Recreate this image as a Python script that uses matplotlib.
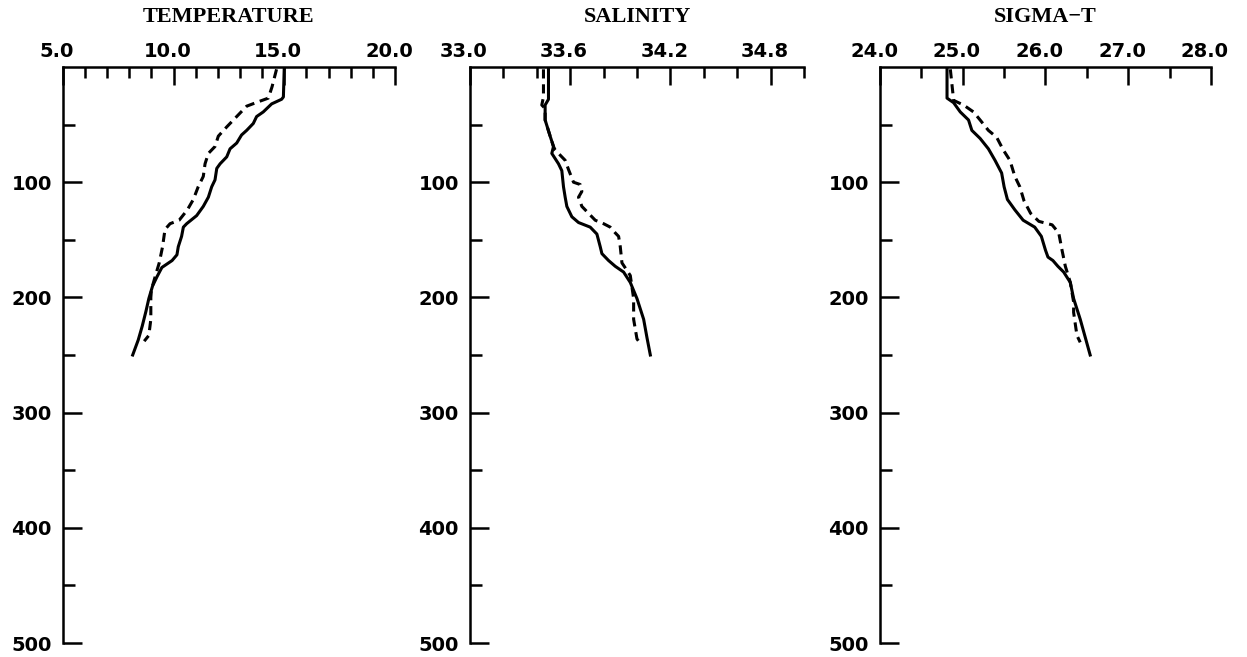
# CTD profiles: temperature, salinity and sigma-t against depth
# solid = first cast, dashed = second cast
import numpy as np
import matplotlib.pyplot as plt
import matplotlib.transforms as mtrans

# temperature (deg C)
t1_depth = [0, 26, 28, 32, 39, 43, 49, 55, 59, 66, 71, 78, 84, 88, 98, 104, 113, 121,
            129, 136, 139, 147, 156, 163, 168, 174, 182, 190, 201, 212, 225, 237, 250]
t1 = [15.0, 14.96, 14.88, 14.43, 14.05, 13.75, 13.6, 13.3, 13.07, 12.85, 12.55, 12.4,
      12.1, 11.95, 11.87, 11.72, 11.57, 11.34, 11.04, 10.59, 10.44, 10.36, 10.21, 10.15,
      9.93, 9.47, 9.25, 9.05, 8.88, 8.75, 8.58, 8.4, 8.15]
t2_depth = [2, 17, 27, 30, 34, 43, 52, 60, 69, 75, 84, 95, 104, 115, 124, 133, 136, 141,
            156, 170, 181, 193, 200, 219, 233, 238]
t2 = [14.65, 14.45, 14.28, 13.85, 13.3, 12.85, 12.4, 12.02, 11.87, 11.57, 11.42, 11.34,
      11.11, 10.89, 10.62, 10.25, 9.84, 9.61, 9.5, 9.35, 9.18, 9.0, 8.97, 8.97, 8.88, 8.67]

# salinity
s1_depth = [0, 28, 33, 46, 60, 69, 75, 84, 90, 104, 113, 121, 130, 135, 139, 145, 156,
            162, 168, 173, 178, 187, 201, 219, 235, 250]
s1 = [33.47, 33.47, 33.45, 33.45, 33.48, 33.50, 33.49, 33.53, 33.55, 33.56, 33.57, 33.58,
      33.61, 33.65, 33.72, 33.76, 33.78, 33.79, 33.83, 33.87, 33.92, 33.96, 34.00, 34.04,
      34.06, 34.08]
s2_depth = [2, 26, 33, 36, 46, 60, 69, 72, 81, 89, 100, 102, 108, 113, 121, 127, 133, 136,
            139, 144, 147, 156, 170, 181, 201, 219, 236, 240]
s2 = [33.44, 33.44, 33.43, 33.45, 33.45, 33.48, 33.50, 33.51, 33.57, 33.59, 33.62, 33.66,
      33.67, 33.65, 33.67, 33.71, 33.75, 33.80, 33.84, 33.87, 33.89, 33.90, 33.91, 33.96,
      33.98, 33.98, 34.00, 34.02]

# sigma-t
g1_depth = [0, 27, 31, 39, 46, 55, 62, 71, 81, 92, 104, 115, 124, 133, 139, 147, 159, 165,
            168, 173, 178, 187, 201, 219, 250]
g1 = [24.81, 24.81, 24.89, 24.97, 25.07, 25.11, 25.21, 25.31, 25.39, 25.47, 25.50, 25.54,
      25.63, 25.73, 25.87, 25.95, 26.00, 26.03, 26.09, 26.15, 26.22, 26.30, 26.34, 26.42, 26.54]
g2_depth = [2, 29, 33, 39, 46, 55, 61, 72, 81, 95, 104, 116, 127, 134, 137, 144, 159, 173,
            187, 204, 213, 233, 239]
g2 = [24.85, 24.89, 25.01, 25.13, 25.21, 25.31, 25.41, 25.49, 25.57, 25.63, 25.69, 25.74,
      25.82, 25.92, 26.08, 26.16, 26.20, 26.24, 26.30, 26.34, 26.34, 26.38, 26.42]

titles = ['TEMPERATURE', 'SALINITY', 'SIGMA\u2212T']
xlims = [(5.0, 20.0), (33.0, 35.0), (24.0, 28.0)]
xmajor = [[5.0, 10.0, 15.0, 20.0], [33.0, 33.6, 34.2, 34.8], [24.0, 25.0, 26.0, 27.0, 28.0]]
xminor = [1.0, 0.2, 0.5]
ymajor = [100, 200, 300, 400, 500]
yminor = [50, 150, 250, 350, 450]

solid = [(t1_depth, t1), (s1_depth, s1), (g1_depth, g1)]
dashed = [(t2_depth, t2), (s2_depth, s2), (g2_depth, g2)]

# axes boxes in figure fractions
lefts = [0.0505, 0.3769, 0.7057]
widths = [0.2662, 0.2678, 0.2654]
bottom = 0.0213
height = 0.8767

tickfont = {'family': 'DejaVu Sans', 'weight': 'bold', 'size': 14}

fig = plt.figure(figsize=(12.47, 6.57), dpi=100)
shift = mtrans.ScaledTranslation(-0.06, 0, fig.dpi_scale_trans)

for i in range(3):
    ax = fig.add_axes([lefts[i], bottom, widths[i], height])
    lo, hi = xlims[i]

    ax.plot(solid[i][1], solid[i][0], color='black', lw=2.2, solid_joinstyle='round')
    ax.plot(dashed[i][1], dashed[i][0], color='black', lw=2.2, dashes=(3.0, 1.9))

    ax.set_xlim(lo, hi)
    ax.set_ylim(500, 0)

    ax.spines['bottom'].set_visible(False)
    ax.spines['right'].set_visible(False)
    ax.spines['top'].set_linewidth(1.8)
    ax.spines['left'].set_linewidth(1.8)

    ax.xaxis.tick_top()
    ax.set_xticks(xmajor[i])
    ax.set_xticklabels(['%.1f' % v for v in xmajor[i]], fontdict=tickfont)
    ax.set_xticks(np.arange(lo, hi + xminor[i] / 2, xminor[i]), minor=True)
    ax.set_yticks(ymajor)
    ax.set_yticklabels([str(v) for v in ymajor], fontdict=tickfont)
    ax.set_yticks(yminor, minor=True)

    ax.tick_params(axis='x', which='both', direction='in', top=True, bottom=False,
                   width=1.8, pad=4)
    ax.tick_params(axis='x', which='major', length=13)
    ax.tick_params(axis='x', which='minor', length=8)
    ax.tick_params(axis='y', which='both', direction='in', left=True, right=False,
                   width=1.8, pad=8)
    ax.tick_params(axis='y', which='major', length=14)
    ax.tick_params(axis='y', which='minor', length=8.5)

    for lab in ax.get_xticklabels():
        lab.set_transform(lab.get_transform() + shift)

    ax.text(0.5, 1.07, titles[i], transform=ax.transAxes, ha='center', va='bottom',
            fontsize=16, fontweight='bold', family='Liberation Serif')

fig.savefig('out.png', dpi=100)
